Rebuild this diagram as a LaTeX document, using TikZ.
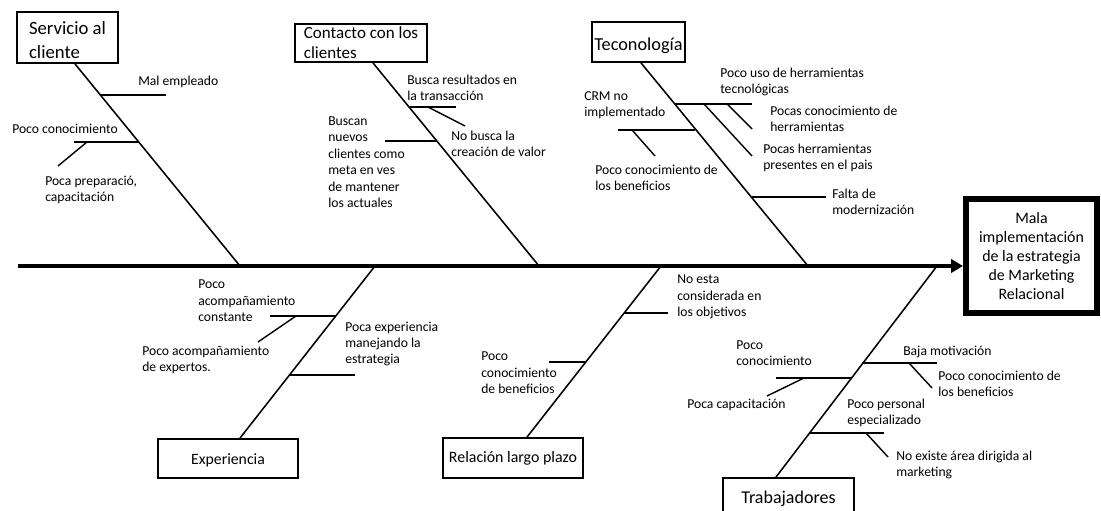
\documentclass[tikz,border=0pt]{standalone}
\usepackage{fontspec}
\setmainfont{Carlito}
\usetikzlibrary{arrows.meta, calc}

\newcommand{\lowered}[2]{\raisebox{#1}[\height][\depth]{#2}}

\begin{document}
\begin{tikzpicture}[
    x=0.025cm, y=-0.025cm,
    % Styles
    category/.style={
        rectangle, draw=black, line width=1.3pt, inner sep=0pt,
        align=#1, font=\fontsize{13}{16.4}\selectfont
    },
    category/.default=center,
    effect/.style={
        rectangle, draw=black, line width=4.3pt, inner sep=0pt,
        align=center, font=\fontsize{11.3}{13.5}\selectfont,
        minimum width=3.275cm, minimum height=2.85cm
    },
    cause/.style={
        anchor=west, inner sep=0pt, align=left,
        font=\fontsize{9.7}{11.7}\selectfont
    },
    spine/.style={
        -{Triangle[length=8.5pt, width=9.5pt]}, line width=3.3pt
    },
    bone/.style={line width=1.1pt},
    rib/.style={line width=1pt}
]
\useasboundingbox (0,0) rectangle (1101,511);

% ── Effect and spine ────────────────────────────────────────────────────────
\node[effect] (efecto) at (1031.5,256) {Mala\\implementación\\de la estrategia\\de Marketing\\Relacional};
\coordinate (tail) at (18,266);
\draw[spine] (tail) -- (tail -| efecto.west);

\coordinate (s1) at (240,266);
\coordinate (s2) at (539,266);
\coordinate (s3) at (808,266);
\coordinate (s4) at (375,266);
\coordinate (s5) at (661,266);
\coordinate (s6) at (937,266);

% ── Categories ──────────────────────────────────────────────────────────────
\node[category=left, minimum width=2.525cm, minimum height=1.275cm, font=\fontsize{13.3}{16.6}\selectfont] (servicio) at (67.5,37.5) {\lowered{-3pt}{\begin{tabular}{@{}l@{}}Servicio al\\cliente\end{tabular}}};
\node[category=left, minimum width=3.3cm, minimum height=0.95cm, font=\fontsize{12.1}{14.2}\selectfont] (contacto) at (361,43) {Contacto con los\\clientes};
\node[category, minimum width=2.325cm, minimum height=1cm] (tecnologia) at (638.5,42) {\lowered{-3pt}{Teconología}};
\node[category, minimum width=3.5cm, minimum height=0.975cm, font=\fontsize{11.2}{13}\selectfont] (experiencia) at (228,458.5) {\lowered{-1.5pt}{Experiencia}};
\node[category, minimum width=3.5cm, minimum height=1cm, font=\fontsize{11.3}{13}\selectfont] (relacion) at (513,458) {Relación largo plazo};
\node[category, minimum width=3.275cm, minimum height=1.15cm, font=\fontsize{12.8}{14}\selectfont] (trabajadores) at (788.5,501) {\lowered{1.5pt}{Trabajadores}};

% ── Bones ───────────────────────────────────────────────────────────────────
\draw[bone] ($(servicio.south)+(7.5,0)$) -- (s1);
\draw[bone] ($(contacto.south)+(12,0)$) -- (s2);
\draw[bone] ($(tecnologia.south)+(2.5,0)$) -- (s3);
\draw[bone] ($(experiencia.north)+(12,0)$) -- (s4);
\draw[bone] ($(relacion.north)+(14,0)$) -- (s5);
\draw[bone] ($(trabajadores.north)+(-12.5,0)$) -- (s6);

% ── Servicio al cliente ─────────────────────────────────────────────────────
\coordinate (a1) at (101,95);  \coordinate (a2) at (166,95);
\coordinate (a3) at (139,142); \coordinate (a4) at (74,142);
\coordinate (a5) at (87,142);  \coordinate (a6) at (58,166);
\draw[rib] (a1) -- (a2);
\draw[rib] (a3) -- (a4);
\draw[rib] (a5) -- (a6);
\node[cause] (mal) at (138,82) {Mal empleado};
\node[cause] (pococon) at (12,129) {Poco conocimiento};
\node[cause] (prep) at (45,190) {Poca preparació,\\capacitación};

% ── Contacto con los clientes ───────────────────────────────────────────────
\coordinate (b1) at (410,107); \coordinate (b2) at (456,107);
\coordinate (b3) at (428,107); \coordinate (b4) at (465,126);
\coordinate (b5) at (437,141); \coordinate (b6) at (385,141);
\draw[rib] (b1) -- (b2);
\draw[rib] (b3) -- (b4);
\draw[rib] (b5) -- (b6);
\node[cause] (busca) at (407,88) {Busca resultados en\\la transacción};
\node[cause] (valor) at (451,144) {No busca la\\creación de valor};
\node[cause] (nuevos) at (328,162) {Buscan\\nuevos\\clientes como\\meta en ves\\de mantener\\los actuales};

% ── Teconología ─────────────────────────────────────────────────────────────
\coordinate (c1) at (675,104); \coordinate (c2) at (752,104);
\coordinate (c3) at (704,104); \coordinate (c4) at (752,156);
\coordinate (c5) at (727,104); \coordinate (c6) at (752,129);
\coordinate (c7) at (695,130); \coordinate (c8) at (618,130);
\coordinate (c9) at (632,130); \coordinate (c10) at (655,156);
\coordinate (c11) at (752,197); \coordinate (c12) at (826,197);
\draw[rib] (c1) -- (c2);
\draw[rib] (c3) -- (c4);
\draw[rib] (c5) -- (c6);
\draw[rib] (c7) -- (c8);
\draw[rib] (c9) -- (c10);
\draw[rib] (c11) -- (c12);
\node[cause] (uso) at (720,82) {Poco uso de herramientas\\tecnológicas};
\node[cause] (pocas) at (770,119) {Pocas conocimiento de\\herramientas};
\node[cause] (pais) at (763,158) {Pocas herramientas\\presentes en el pais};
\node[cause] (crm) at (584,105) {CRM no\\implementado};
\node[cause] (benef) at (595,178) {Poco conocimiento de\\los beneficios};
\node[cause] (falta) at (832,202) {Falta de\\modernización};

% ── Experiencia ─────────────────────────────────────────────────────────────
\coordinate (d1) at (336,316); \coordinate (d2) at (270,316);
\coordinate (d3) at (296,316); \coordinate (d4) at (258,342);
\coordinate (d5) at (289,375); \coordinate (d6) at (355,375);
\draw[rib] (d1) -- (d2);
\draw[rib] (d3) -- (d4);
\draw[rib] (d5) -- (d6);
\node[cause] (constante) at (198,301) {Poco\\acompañamiento\\constante};
\node[cause] (expertos) at (142,360) {Poco acompañamiento\\de expertos.};
\node[cause] (manejo) at (345,344) {Poca experiencia\\manejando la\\estrategia};

% ── Relación largo plazo ────────────────────────────────────────────────────
\coordinate (e1) at (624,313); \coordinate (e2) at (668,313);
\coordinate (e3) at (586,362); \coordinate (e4) at (549,362);
\draw[rib] (e1) -- (e2);
\draw[rib] (e3) -- (e4);
\node[cause] (objetivos) at (677,297) {No esta\\considerada en\\los objetivos};
\node[cause] (beneficios) at (481,373) {Poco\\conocimiento\\de beneficios};

% ── Trabajadores ────────────────────────────────────────────────────────────
\coordinate (f1) at (863,363); \coordinate (f2) at (937,363);
\coordinate (f3) at (909,363); \coordinate (f4) at (932,388);
\coordinate (f5) at (852,378); \coordinate (f6) at (776,378);
\coordinate (f7) at (804,378); \coordinate (f8) at (767,396);
\coordinate (f9) at (810,433); \coordinate (f10) at (884,433);
\coordinate (f11) at (866,433); \coordinate (f12) at (888,457);
\draw[rib] (f1) -- (f2);
\draw[rib] (f3) -- (f4);
\draw[rib] (f5) -- (f6);
\draw[rib] (f7) -- (f8);
\draw[rib] (f9) -- (f10);
\draw[rib] (f11) -- (f12);
\node[cause] (motivacion) at (903,352) {Baja motivación};
\node[cause] (losbenef) at (938,384) {Poco conocimiento de\\los beneficios};
\node[cause] (conoc) at (736,353) {Poco\\conocimiento};
\node[cause] (capac) at (687,405) {Poca capacitación};
\node[cause] (personal) at (847,413) {Poco personal\\especializado};
\node[cause] (area) at (896,465) {No existe área dirigida al\\marketing};

\end{tikzpicture}
\end{document}
